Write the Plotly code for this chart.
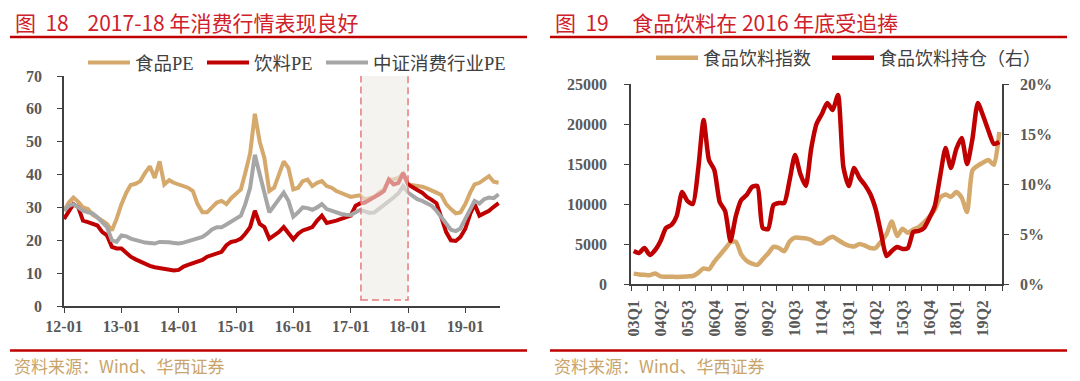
import pandas as pd
import plotly.graph_objects as go

# ---------------- Left chart data (monthly, from 2012-01) ----------------
left_months = pd.date_range("2012-01-01", periods=92, freq="MS")
food_pe = [29, 31.5, 33, 31.7, 30, 29.5, 27.8, 27, 26, 25, 23, 26.5,
           31, 34.5, 36.8, 37.2, 38, 40.5, 42.5, 39, 44, 37, 38.3, 37.5,
           37, 36.5, 36, 35, 31, 28.5, 28.5, 30, 31.5, 32, 31, 32.8,
           34, 35.5, 40.5, 46.5, 58.5, 50, 45, 35, 36, 40, 44, 42,
           35.5, 36, 38, 38.5, 36.5, 37.5, 38, 36.5, 36, 35, 34.3, 33.7,
           33.2, 33.5, 33.7, 32.5, 33, 33.2, 34.5, 35.5, 38.5, 38.5, 39, 40.3,
           37, 36.8, 36.8, 36.3, 35.8, 35, 34.5, 33.8, 31, 29.5, 28.2, 28.5,
           31, 34.5, 37, 37.5, 38.5, 39.5, 37.8, 37.5]
bev_pe = [26.5, 29, 31, 30, 26, 25.5, 25, 24.5, 22.5, 21.5, 18, 17.5,
          17.5, 16.2, 15, 14.2, 13.5, 12.8, 12.2, 11.8, 11.5, 11.2, 10.9, 10.8,
          11, 12, 12.5, 13, 13.3, 14, 15, 15.5, 15.8, 16.5, 18.5, 19.5,
          19.8, 20.5, 22, 24, 29, 25, 24, 20.5, 21.5, 22.5, 24, 22,
          20.3, 22, 23, 23.5, 24, 26, 27.5, 25.3, 25.5, 26, 26.5, 27,
          27.5, 30.5, 31.2, 31.5, 32.5, 33.2, 34, 35, 38.5, 37, 37.5, 40.5,
          37, 36, 35.3, 34.5, 33.2, 32.3, 31.3, 27, 22.5, 20, 19.8, 21,
          23.5, 28, 31, 27.5, 28.3, 29, 30.2, 31.3]
cons_pe = [29, 30.5, 31, 30, 29, 28.5, 28.2, 27, 25.5, 24, 20, 19.5,
           21.5, 21.2, 20.5, 20, 19.6, 19.3, 19.2, 19, 19.5, 19.6, 19.4, 19.2,
           19, 19.3, 19.7, 20, 20.5, 21, 22, 23.3, 24, 24, 24.8, 25.8,
           26.5, 27.5, 31, 36, 46, 40, 34, 28.5, 30.5, 32.5, 34.5, 32,
           27.2, 28.5, 30, 29.8, 29.3, 30, 31, 29.5, 29, 28.4, 28, 27.8,
           27.7, 28.5, 29.2, 28.8, 28.3, 28.5, 29.6, 30.5, 32, 33, 34.3, 36.5,
           34.5, 33.5, 32.5, 32, 31.2, 30.5, 29, 27, 25, 23.2, 22.8, 23.6,
           26.5, 29.5, 32, 31.2, 32.5, 33, 32.8, 34]
left_names = ["食品PE", "饮料PE", "中证消费行业PE"]
left_tickvals = ["2012-01-01", "2013-01-01", "2014-01-01", "2015-01-01",
                 "2016-01-01", "2017-01-01", "2018-01-01", "2019-01-01"]
left_ticktext = ["12-01", "13-01", "14-01", "15-01", "16-01", "17-01", "18-01", "19-01"]
highlight_start = "2017-03-07"
highlight_end = "2018-01-01"

# ---------------- Right chart data (quarterly, category index) ----------------
index_vals = [1300, 1200, 1150, 1100, 1300, 950, 900, 900, 880, 900,
              950, 1000, 1400, 1950, 1850, 2800, 3600, 4400, 5200, 5300,
              3700, 2900, 2550, 2400, 3100, 3800, 4650, 4500, 4100, 5300,
              5800, 5750, 5700, 5500, 5100, 5100, 5600, 5900, 5500, 5100,
              4800, 4700, 5000, 4800, 4500, 4500, 5300, 6200, 7800, 6000,
              6900, 6400, 6800, 7100, 7700, 8400, 9300, 10800, 11200, 10900,
              11500, 10800, 9000, 14200, 14800, 15200, 15500, 14900, 19000]
holding_pct = [3.3, 3.1, 3.6, 2.9, 3.4, 4.3, 5.6, 5.9, 6.8, 9.2,
               8.3, 8.0, 11.5, 16.4, 12.4, 11.4, 8.2, 7.3, 4.3, 6.8,
               8.4, 8.9, 9.7, 9.8, 5.6, 5.5, 7.9, 8.1, 8.1, 10.4,
               12.9, 11.0, 9.8, 13.5, 16.0, 17.0, 18.1, 17.4, 18.9, 11.7,
               9.8, 11.6, 10.6, 9.9, 9.0, 7.5, 5.1, 2.8, 3.3, 3.7,
               3.5, 3.6, 5.2, 5.3, 5.6, 6.6, 7.8, 10.8, 13.6, 11.6,
               13.5, 14.6, 12.0, 14.5, 18.1, 16.8, 15.3, 14.0, 14.2]
right_names = ["食品饮料指数", "食品饮料持仓（右）"]
right_ticktext = ["03Q1", "04Q2", "05Q3", "06Q4", "08Q1", "09Q2", "10Q3",
                  "11Q4", "13Q1", "14Q2", "15Q3", "16Q4", "18Q1", "19Q2"]
label_step = 5       # categories between labels
tick_step = 3        # categories between tick marks

# ---------------- styling ----------------
TAN = "#d5a86c"
RED = "#c00000"
GRAY = "#a6a6a6"
AXC = "#404040"
TICKFONT = dict(family="Liberation Serif", size=16, color="#595959", weight="bold")
W, H = 1080, 381
ITEMW = 42

n_cat = len(index_vals)
xq = [k + 0.5 for k in range(n_cat)]
right_tickvals = [i * label_step + 0.5 for i in range(len(right_ticktext))]

fig = go.Figure()
left_legends = ["legend", "legend2", "legend3"]
for name, vals, col, lg in zip(left_names, [food_pe, bev_pe, cons_pe], [TAN, RED, GRAY], left_legends):
    fig.add_trace(go.Scatter(x=left_months, y=vals, name=name, mode="lines",
                             line=dict(color=col, width=4),
                             xaxis="x", yaxis="y", legend=lg))
fig.add_trace(go.Scatter(x=xq, y=index_vals, name=right_names[0], mode="lines",
                         line=dict(color=TAN, width=4.5, shape="spline", smoothing=0.6),
                         xaxis="x2", yaxis="y2", legend="legend4"))
fig.add_trace(go.Scatter(x=xq, y=holding_pct, name=right_names[1], mode="lines",
                         line=dict(color=RED, width=4.5, shape="spline", smoothing=0.6),
                         xaxis="x2", yaxis="y3", legend="legend5"))

common_axis = dict(showline=True, linecolor=AXC, linewidth=1.5, showgrid=False,
                   zeroline=False, tickfont=TICKFONT, tickcolor=AXC, ticklen=5,
                   automargin=False)


def legend_at(text_left_px, center_y_px, size):
    return dict(orientation="h", x=(text_left_px - ITEMW - 11) / W, xanchor="left",
                y=1 - center_y_px / H, yanchor="middle", itemwidth=ITEMW,
                font=dict(family="Liberation Serif, Noto Sans CJK SC", size=size,
                          color="#404040"),
                bgcolor="rgba(0,0,0,0)")


fig.update_layout(
    width=W, height=H, margin=dict(l=0, r=0, t=0, b=0, autoexpand=False),
    paper_bgcolor="white", plot_bgcolor="white",
    xaxis=dict(domain=[64 / W, 500 / W], anchor="y", type="date",
               range=["2012-01-01", "2019-08-10"], tickmode="array",
               tickvals=left_tickvals, ticktext=left_ticktext, ticks="outside",
               **common_axis),
    yaxis=dict(domain=[1 - 306 / H, 1 - 76 / H], anchor="x", range=[0, 70],
               dtick=10, ticks="outside", ticklabelstandoff=12, **common_axis),
    xaxis2=dict(domain=[631 / W, 1002 / W], anchor="y2", range=[0, n_cat],
                tickmode="array", tickvals=right_tickvals, ticktext=right_ticktext,
                tickangle=-90, ticks="", ticklabelstandoff=8,
                minor=dict(tickmode="linear", tick0=0, dtick=tick_step, ticks="outside",
                           ticklen=5, tickcolor=AXC, showgrid=False),
                **common_axis),
    yaxis2=dict(domain=[1 - 284 / H, 1 - 84 / H], anchor="x2", range=[0, 25000],
                dtick=5000, tickformat="d", ticks="outside", ticklabelstandoff=14,
                **common_axis),
    yaxis3=dict(overlaying="y2", side="right", anchor="x2", range=[0, 20], dtick=5,
                ticksuffix="%", ticks="outside", ticklabelstandoff=8, **common_axis),
    legend=legend_at(136, 63, 18.5),
    legend2=legend_at(255, 63, 18.5),
    legend3=legend_at(374, 63, 18.5),
    legend4=legend_at(704, 58, 18),
    legend5=legend_at(880, 58, 18),
    showlegend=True,
)

shapes = []
# highlight rectangle on left chart
shapes.append(dict(type="rect", xref="x", yref="y", x0=highlight_start, x1=highlight_end,
                   y0=1.8, y1=70.2, fillcolor="rgba(238,235,229,0.6)",
                   line=dict(color="#e57c7c", width=1.5, dash="7px,4px"), layer="above"))
# red rules (title underline and footer line) for both panels
for x0, x1 in [(10, 527), (550, 1067)]:
    for yy in [37, 350.5]:
        shapes.append(dict(type="line", xref="paper", yref="paper",
                           x0=x0 / W, x1=x1 / W, y0=1 - yy / H, y1=1 - yy / H,
                           line=dict(color=RED, width=2.6)))
fig.update_layout(shapes=shapes)

TITLE_FONT = dict(family="Noto Sans CJK SC", size=21, color="#d0202a")
SRC_FONT = dict(family="Noto Sans CJK SC", size=17, color="#c9a46a")
annotations = [
    dict(text="图  18    2017-18 年消费行情表现良好", x=13 / W, y=1 - 22 / H,
         xref="paper", yref="paper", xanchor="left", yanchor="middle",
         showarrow=False, font=TITLE_FONT),
    dict(text="图  19     食品饮料在 2016 年底受追捧", x=553 / W, y=1 - 22 / H,
         xref="paper", yref="paper", xanchor="left", yanchor="middle",
         showarrow=False, font=TITLE_FONT),
    dict(text="资料来源：Wind、华西证券", x=12 / W, y=1 - 365 / H,
         xref="paper", yref="paper", xanchor="left", yanchor="middle",
         showarrow=False, font=SRC_FONT),
    dict(text="资料来源：Wind、华西证券", x=552 / W, y=1 - 365 / H,
         xref="paper", yref="paper", xanchor="left", yanchor="middle",
         showarrow=False, font=SRC_FONT),
]
fig.update_layout(annotations=annotations)

fig.write_html("out.html", config={"displayModeBar": False},
               post_script="document.body.style.margin='0';document.body.style.overflow='hidden';")
